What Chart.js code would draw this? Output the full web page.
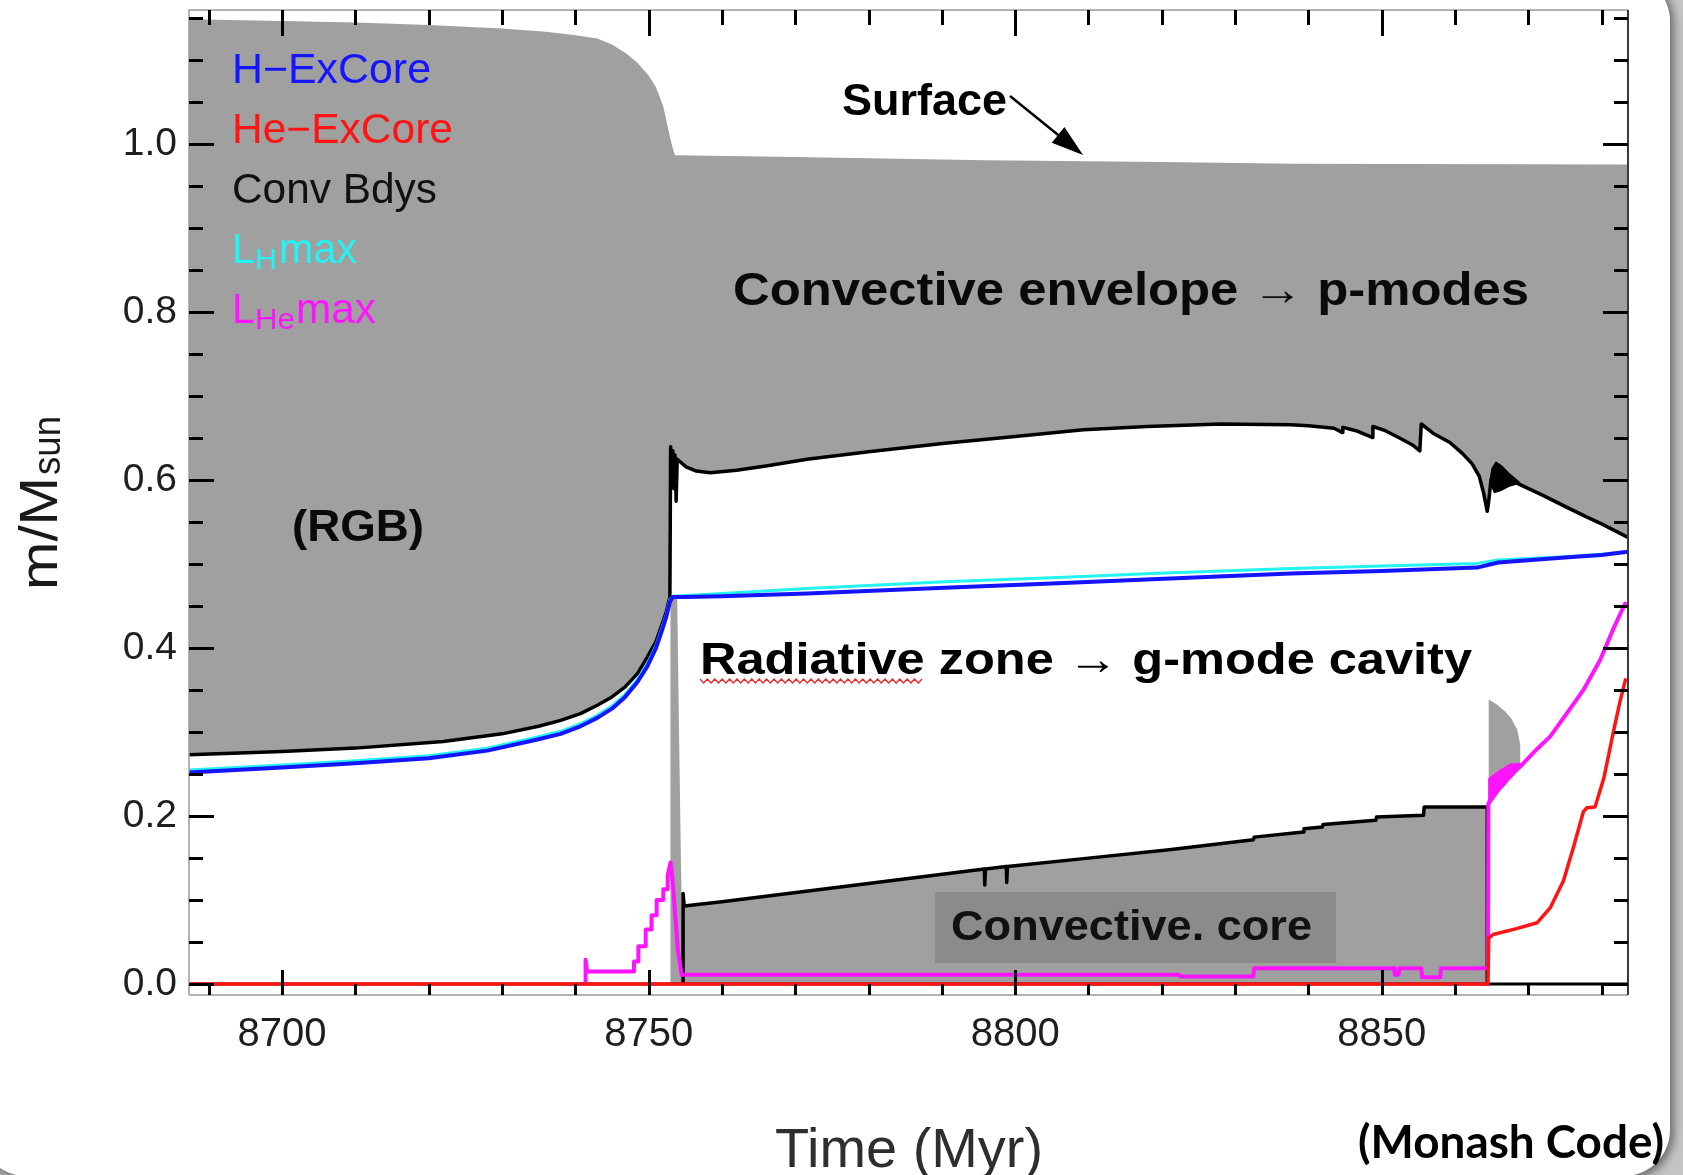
<!DOCTYPE html>
<html>
<head>
<meta charset="utf-8">
<title>Mass coordinate vs time</title>
<script src="https://cdn.jsdelivr.net/npm/chart.js@4.4.1/dist/chart.umd.min.js"></script>
<style>
  html, body { margin: 0; padding: 0; width: 1683px; height: 1175px; overflow: hidden; background: #c4c4c4; }
  #card { position: absolute; left: -20px; top: -25px; width: 1690px; height: 1201px; background: #fff;
          border-radius: 46px; box-shadow: 2px 2px 9px 2px rgba(0,0,0,0.45); }
  #chart { position: absolute; left: 0; top: 0; }
</style>
</head>
<body>
<div id="card"></div>
<canvas id="chart" width="1683" height="1175"></canvas>
<script>
// ---- time axis (Myr) and mass coordinate (m/Msun) readings ----
const timeRange = [8687.3, 8883.6];
const massRange = [-0.013, 1.16];

const xLabelTicks = [8700, 8750, 8800, 8850];
const xTickMarks = [8690, 8700, 8710, 8720, 8730, 8740, 8750, 8760, 8770, 8780, 8790,
                    8800, 8810, 8820, 8830, 8840, 8850, 8860, 8870, 8880];
const yLabelTicks = [0.0, 0.2, 0.4, 0.6, 0.8, 1.0];
const yTickMarks = [0, 0.05, 0.1, 0.15, 0.2, 0.25, 0.3, 0.35, 0.4, 0.45, 0.5, 0.55,
                    0.6, 0.65, 0.7, 0.75, 0.8, 0.85, 0.9, 0.95, 1.0, 1.05, 1.1, 1.15];

// stellar surface (total mass)
const surface = [[8687.3,1.149],[8700,1.147],[8710,1.145],[8720,1.142],[8730,1.138],[8736,1.134],
  [8740,1.13],[8743,1.126],[8745,1.119],[8747,1.108],[8748.5,1.097],[8750,1.082],[8751,1.068],
  [8752,1.045],[8752.8,1.013],[8753.3,0.995],[8753.6,0.987],[8770,0.985],[8796,0.981],[8820,0.979],
  [8838,0.977],[8883.6,0.976]];

// base of the convective envelope
const envelopeBase = [[8687.3,0.273],[8700,0.277],[8710,0.281],[8722,0.289],[8730,0.298],[8735,0.307],
  [8738,0.314],[8740.7,0.322],[8743,0.332],[8745,0.342],[8746.8,0.354],[8748.5,0.37],[8749.8,0.389],
  [8751,0.408],[8751.7,0.425],[8752.4,0.443],[8752.9,0.461],
  [8753.0,0.64],[8753.15,0.6],[8753.3,0.635],[8753.45,0.59],[8753.6,0.63],[8753.75,0.575],[8753.9,0.625],
  [8754.3,0.622],[8755.1,0.616],[8756.5,0.611],[8758.4,0.609],[8762,0.612],[8766,0.617],[8771.6,0.625],
  [8780,0.634],[8790.4,0.644],[8800,0.652],[8809.3,0.66],[8818,0.664],[8828,0.667],[8837.6,0.666],
  [8840,0.665],[8843.5,0.662],[8844.6,0.657],[8844.7,0.663],[8846.5,0.659],[8848.7,0.651],[8848.8,0.664],
  [8850.5,0.659],[8852.5,0.65],[8854.2,0.642],[8855.2,0.635],[8855.4,0.667],[8857,0.656],[8859.3,0.645],
  [8861,0.632],[8862.3,0.62],[8863.3,0.605],[8863.9,0.585],[8864.4,0.563],[8864.6,0.575],[8864.9,0.6],
  [8866,0.607],[8868.8,0.595],[8872,0.582],[8875.2,0.568],[8878,0.556],[8880,0.548],[8881.8,0.54],
  [8883.6,0.532]];

// rapid boundary oscillation during the second flash
const envelopeKnot = [[8864.8,0.598],[8865.1,0.614],[8865.6,0.621],[8866.3,0.617],[8867.3,0.608],
  [8868.8,0.597],[8867.3,0.593],[8866.2,0.588],[8865.4,0.586],[8864.8,0.598]];

// convective zone of the core flash
const flashZone = [[8752.95,0],[8752.95,0.2],[8753.0,0.46],[8753.9,0.46],[8754.15,0.3],[8754.4,0.15],
  [8754.6,0.05],[8754.7,0],[8752.95,0]];

// convective core (top boundary)
const convCore = [[8754.7,0],[8754.7,0.108],[8754.85,0.093],[8760,0.098],[8777.5,0.117],[8795.8,0.137],
  [8795.85,0.118],[8795.95,0.137],[8798.8,0.14],[8798.85,0.121],[8798.95,0.14],[8810,0.15],[8821,0.16],
  [8832.5,0.172],[8832.6,0.175],[8839.3,0.181],[8839.4,0.185],[8841.9,0.187],[8842,0.19],[8849.2,0.195],
  [8849.3,0.199],[8855.7,0.201],[8855.8,0.211],[8864.4,0.211],[8864.4,0]];

// helium-burning convective shell after core exhaustion
const heShell = [[8864.6,0.215],[8864.6,0.339],[8865.7,0.333],[8866.8,0.325],[8867.7,0.316],[8868.5,0.303],
  [8868.9,0.285],[8868.9,0.259],[8867.5,0.25],[8866,0.238],[8864.6,0.215]];

// hydrogen-exhausted core mass
const hExCore = [[8687.3,0.252],[8700,0.258],[8710,0.263],[8720,0.269],[8728,0.278],[8734.7,0.291],
  [8738,0.298],[8740.7,0.307],[8743,0.317],[8745,0.328],[8746.8,0.342],[8748.5,0.36],[8749.8,0.378],
  [8751,0.4],[8751.7,0.418],[8752.4,0.437],[8752.9,0.455],[8753.3,0.461],[8755,0.461],[8760,0.462],
  [8771.6,0.465],[8790.4,0.472],[8805,0.477],[8818.7,0.482],[8837.6,0.489],[8850,0.492],[8863,0.496],
  [8865.9,0.502],[8875,0.508],[8880,0.511],[8883.6,0.515]];

// location of maximum hydrogen-burning luminosity
const lhMax = [[8687.3,0.255],[8700,0.261],[8710,0.266],[8720,0.272],[8728,0.281],[8734.7,0.294],
  [8738,0.301],[8740.7,0.31],[8743,0.32],[8745,0.331],[8746.8,0.345],[8748.5,0.363],[8749.8,0.381],
  [8751,0.403],[8751.7,0.421],[8752.4,0.44],[8752.9,0.458],[8753.4,0.462],[8760,0.465],[8771.6,0.471],
  [8790.4,0.479],[8805,0.484],[8818.7,0.489],[8837.6,0.495],[8850,0.498],[8863,0.501],[8865.9,0.505],
  [8875,0.509],[8880,0.512],[8883.6,0.515]];

// location of maximum helium-burning luminosity
const lheMax = [[8741.4,0],[8741.4,0.029],[8741.6,0.015],[8748.0,0.015],[8748.0,0.027],[8748.6,0.027],
  [8748.6,0.045],[8749.6,0.045],[8749.6,0.065],[8750.4,0.065],[8750.4,0.082],[8751.1,0.082],[8751.1,0.1],
  [8752.0,0.1],[8752.0,0.113],[8752.6,0.113],[8752.6,0.13],[8753.0,0.145],[8753.3,0.12],[8754.0,0.04],
  [8754.5,0.011],[8777.5,0.011],[8799.1,0.011],[8822.4,0.011],[8822.5,0.009],[8832.5,0.009],[8832.6,0.019],
  [8851.7,0.019],[8851.8,0.011],[8852.3,0.011],[8852.4,0.019],[8855.4,0.019],[8855.5,0.008],[8858,0.008],
  [8858.1,0.019],[8864.5,0.019],[8864.55,0.215],[8866,0.238],[8867.5,0.25],[8868.9,0.259],[8871.2,0.28],
  [8873,0.295],[8875.3,0.323],[8877.5,0.35],[8879.8,0.386],[8881.6,0.423],[8883.3,0.455]];

// spread of the L_He maximum while the shell oscillates
const lheBand = [[8864.6,0.212],[8864.6,0.245],[8866,0.254],[8867.5,0.262],[8868.9,0.263],[8868.9,0.257],
  [8867.5,0.244],[8866,0.229],[8864.6,0.212]];

// helium-exhausted core mass
const heExCore = [[8687.3,0],[8864.5,0],[8864.6,0.055],[8865.2,0.059],[8868.4,0.066],[8871.2,0.073],
  [8873,0.091],[8874.8,0.123],[8876.2,0.164],[8877.5,0.205],[8878,0.21],[8879.1,0.211],[8880.3,0.245],
  [8881.6,0.3],[8882.5,0.336],[8883.3,0.364]];

const zeroLine = [[8687.3,0],[8883.6,0]];

// ---- styling ----
const GRAY = '#a0a0a0';
const BLUE = '#1414ff', RED = '#ff1414', CYAN = '#25f2f2', MAGENTA = '#ff14ff';
const SANS = '"Liberation Sans", Arial, sans-serif';

const xy = a => a.map(([x, y]) => ({ x, y }));
const line = (data, color, width, order, extra) => Object.assign({
  data: xy(data), borderColor: color, borderWidth: width, fill: false,
  pointRadius: 0, tension: 0, borderJoinStyle: 'round', order
}, extra || {});

// text drawn with a fixed rendered width
function fitText(ctx, str, x, y, font, width, color, align) {
  ctx.save();
  ctx.font = font;
  ctx.fillStyle = color;
  ctx.textBaseline = 'alphabetic';
  ctx.textAlign = 'left';
  const k = width / ctx.measureText(str).width;
  const x0 = align === 'center' ? x - width / 2 : align === 'right' ? x - width : x;
  ctx.translate(x0, y);
  ctx.scale(k, 1);
  ctx.fillText(str, 0, 0);
  ctx.restore();
}

const decorations = {
  id: 'decorations',
  afterDatasetsDraw(chart) {
    const { ctx, chartArea: a, scales: { x, y } } = chart;
    ctx.save();
    // frame
    ctx.lineWidth = 1.5;
    ctx.strokeStyle = '#9a9a9a';
    ctx.beginPath();
    ctx.moveTo(a.left, a.bottom); ctx.lineTo(a.left, a.top); ctx.lineTo(a.right, a.top);
    ctx.moveTo(a.left, a.bottom); ctx.lineTo(a.right, a.bottom);
    ctx.stroke();
    ctx.strokeStyle = '#3a3a3a';
    ctx.lineWidth = 2;
    ctx.beginPath(); ctx.moveTo(a.right, a.top); ctx.lineTo(a.right, a.bottom); ctx.stroke();

    // tick marks
    ctx.strokeStyle = '#000';
    ctx.lineWidth = 3;
    ctx.beginPath();
    yTickMarks.forEach(v => {
      const py = Math.round(y.getPixelForValue(v)) + 0.5;
      const major = yLabelTicks.some(t => Math.abs(t - v) < 1e-9);
      const len = major ? 25 : 14;
      ctx.moveTo(a.left, py); ctx.lineTo(a.left + len, py);
      ctx.moveTo(a.right, py); ctx.lineTo(a.right - len, py);
    });
    xTickMarks.forEach(t => {
      const px = Math.round(x.getPixelForValue(t)) + 0.5;
      const major = xLabelTicks.includes(t);
      ctx.moveTo(px, a.top); ctx.lineTo(px, a.top + (major ? 26 : 15));
      ctx.moveTo(px, a.bottom); ctx.lineTo(px, a.bottom - (major ? 25 : 11));
    });
    ctx.stroke();

    // label box on the convective core
    ctx.fillStyle = '#8b8b8b';
    ctx.fillRect(935, 892, 401, 71);
    fitText(ctx, 'Convective. core', 951, 940, 'bold 42px ' + SANS, 361, '#111');
    ctx.restore();
  },
  afterDraw(chart) {
    const { ctx } = chart;
    ctx.save();
    // series names
    fitText(ctx, 'H\u2212ExCore', 232, 83, '42px ' + SANS, 199, BLUE);
    fitText(ctx, 'He\u2212ExCore', 232, 143, '42px ' + SANS, 221, RED);
    fitText(ctx, 'Conv Bdys', 232, 203, '42px ' + SANS, 205, '#111');
    fitText(ctx, 'L', 232, 263, '42px ' + SANS, 23, CYAN);
    fitText(ctx, 'H', 255, 269, '29px ' + SANS, 22, CYAN);
    fitText(ctx, 'max', 279, 263, '42px ' + SANS, 78, CYAN);
    fitText(ctx, 'L', 232, 323, '42px ' + SANS, 23, MAGENTA);
    fitText(ctx, 'He', 255, 329, '29px ' + SANS, 40, MAGENTA);
    fitText(ctx, 'max', 296, 323, '42px ' + SANS, 80, MAGENTA);

    // region annotations
    fitText(ctx, 'Surface', 842, 115, 'bold 45px ' + SANS, 165, '#000');
    fitText(ctx, 'Convective envelope \u2192 p-modes', 733, 305, 'bold 46px ' + SANS, 796, '#0a0a0a');
    fitText(ctx, '(RGB)', 292, 541, 'bold 45px ' + SANS, 132, '#0a0a0a');
    fitText(ctx, 'Radiative zone \u2192 g-mode cavity', 700, 674, 'bold 45px ' + SANS, 772, '#000');

    // wavy underline under "Radiative"
    ctx.strokeStyle = '#e52a2a';
    ctx.lineWidth = 1.4;
    ctx.beginPath();
    for (let i = 0; i <= 60; i++) {
      const px = 700 + i * 3.7;
      const py = 681 + (i % 2 === 0 ? -2 : 2);
      if (i === 0) ctx.moveTo(px, py); else ctx.lineTo(px, py);
    }
    ctx.stroke();

    // arrow from "Surface" to the surface boundary
    const x0 = 1010, y0 = 96, x1 = 1083, y1 = 155;
    const ang = Math.atan2(y1 - y0, x1 - x0);
    ctx.strokeStyle = '#000';
    ctx.fillStyle = '#000';
    ctx.lineWidth = 2.5;
    ctx.beginPath();
    ctx.moveTo(x0, y0);
    ctx.lineTo(x1 - 24 * Math.cos(ang), y1 - 24 * Math.sin(ang));
    ctx.stroke();
    ctx.beginPath();
    ctx.moveTo(x1, y1);
    ctx.lineTo(x1 - 32 * Math.cos(ang) + 10 * Math.sin(ang), y1 - 32 * Math.sin(ang) - 10 * Math.cos(ang));
    ctx.lineTo(x1 - 32 * Math.cos(ang) - 10 * Math.sin(ang), y1 - 32 * Math.sin(ang) + 10 * Math.cos(ang));
    ctx.closePath();
    ctx.fill();

    // axis titles
    ctx.save();
    ctx.translate(57, 590);
    ctx.rotate(-Math.PI / 2);
    fitText(ctx, 'm/M', 0, 0, '54px ' + SANS, 113, '#1a1a1a');
    fitText(ctx, 'sun', 115, 3, '38px ' + SANS, 59, '#1a1a1a');
    ctx.restore();
    fitText(ctx, 'Time (Myr)', 775, 1167, '55px ' + SANS, 268, '#2e2e2e');
    fitText(ctx, '(Monash Code)', 1358, 1158, 'bold 45px Lato, "Open Sans", sans-serif', 306, '#000');
    ctx.restore();
  }
};

new Chart(document.getElementById('chart'), {
  type: 'line',
  data: {
    datasets: [
      line(surface, GRAY, 0, 100, { fill: 'origin', backgroundColor: GRAY }),
      line(envelopeBase, '#000', 3.5, 90, { fill: 'origin', backgroundColor: '#ffffff' }),
      line(flashZone, GRAY, 0, 85, { fill: 'shape', backgroundColor: GRAY }),
      line(convCore, '#000', 3.5, 80, { fill: 'origin', backgroundColor: GRAY }),
      line(heShell, GRAY, 0, 78, { fill: 'shape', backgroundColor: GRAY }),
      line(envelopeKnot, '#000', 2, 70, { fill: 'shape', backgroundColor: '#000' }),
      line(zeroLine, '#000', 3, 60),
      line(lhMax, CYAN, 3, 35),
      line(hExCore, BLUE, 4, 30),
      line(lheBand, MAGENTA, 1, 25, { fill: 'shape', backgroundColor: MAGENTA }),
      line(lheMax, MAGENTA, 4, 20),
      line(heExCore, RED, 3.5, 10)
    ]
  },
  options: {
    responsive: false,
    animation: false,
    devicePixelRatio: 1,
    layout: { padding: { left: 0, right: 55, top: 10, bottom: 0 } },
    plugins: { legend: { display: false }, tooltip: { enabled: false } },
    scales: {
      x: {
        type: 'linear',
        min: timeRange[0], max: timeRange[1],
        grid: { display: false, drawTicks: false },
        border: { display: false },
        afterBuildTicks: s => { s.ticks = xLabelTicks.map(value => ({ value })); },
        afterFit: s => { s.height = 180; s.paddingLeft = 0; s.paddingRight = 0; },
        ticks: {
          autoSkip: false, maxRotation: 0, padding: 16,
          color: '#1e1e1e', font: { family: SANS, size: 40 },
          callback: v => String(v)
        }
      },
      y: {
        type: 'linear',
        min: massRange[0], max: massRange[1],
        grid: { display: false, drawTicks: false },
        border: { display: false },
        afterBuildTicks: s => { s.ticks = yLabelTicks.map(value => ({ value })); },
        afterFit: s => { s.width = 189; s.paddingTop = 0; s.paddingBottom = 0; },
        ticks: {
          padding: 12, color: '#1e1e1e', font: { family: SANS, size: 39 },
          callback: v => v.toFixed(1)
        }
      }
    }
  },
  plugins: [decorations]
});
</script>
</body>
</html>
